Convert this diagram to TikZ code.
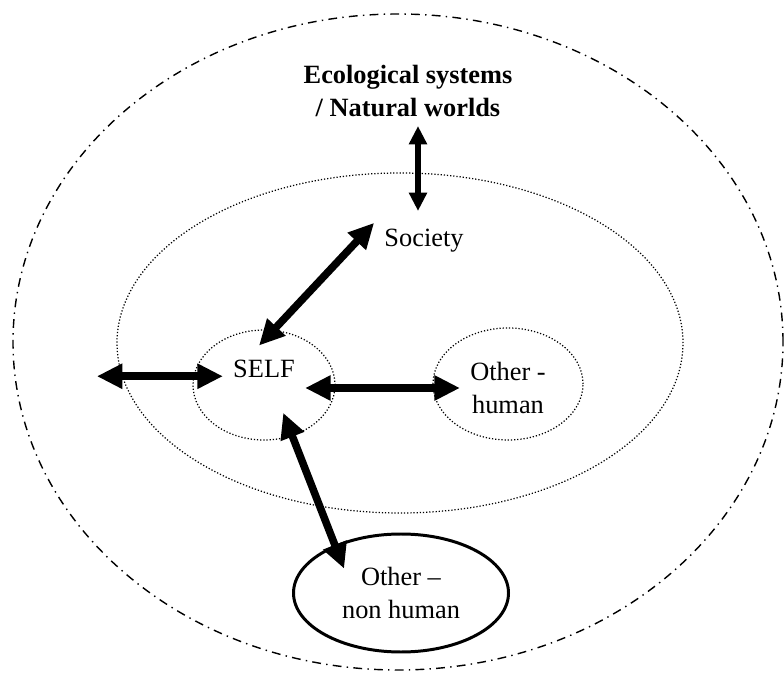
\documentclass[tikz,border=0pt]{standalone}
\usepackage{fontspec}
\setmainfont{Liberation Serif}
\usetikzlibrary{arrows.meta,positioning,shapes.geometric,calc}

\begin{document}
\begin{tikzpicture}[
    ring/.style={draw, ellipse, inner sep=0pt},
    dotring/.style={ring, line width=0.7pt, dash pattern=on 0.7pt off 1.1pt},
    txt/.style={inner sep=0.2cm, align=center, font=\fontsize{15}{19}\selectfont},
    arrow/.style={{Triangle[length=14.5pt,width=13.5pt]}-{Triangle[length=14.5pt,width=13.5pt]}, line width=4.3pt},
    thinarrow/.style={{Triangle[length=10.4pt,width=9.8pt]}-{Triangle[length=10.4pt,width=9.8pt]}, line width=3.4pt}
]
\useasboundingbox (0,0) rectangle (15.68,13.54);

% Rings
\node[ring, line width=0.8pt, dash pattern=on 5pt off 3pt on 0.8pt off 3pt, minimum width=15.4cm, minimum height=13.12cm] (world) at (7.96,6.70) {};
\node[dotring, minimum width=11.32cm, minimum height=6.8cm] (societyring) at (8.00,6.68) {};
\node[dotring, minimum width=2.84cm, minimum height=2.2cm] (selfring) at (5.28,5.84) {};
\node[dotring, minimum width=3.0cm, minimum height=2.24cm] (otherhring) at (10.16,5.86) {};
\node[ring, line width=1.7pt, minimum width=4.3cm, minimum height=2.36cm] (nonhumanring) at (8.02,1.68) {};

% Labels
\node[txt, font=\fontsize{15}{19}\selectfont\bfseries] (eco) at (8.16,11.72) {Ecological systems\\/ Natural worlds};
\node[txt] (society) at (8.48,8.72) {Society};
\node[txt] (self) at (5.28,6.16) {SELF};
\node[txt] (otherh) at (10.16,5.78) {Other -\\human};
\node[txt] (nonhuman) at (8.02,1.68) {Other --\\non human};

% Arrows
\coordinate (leftend) at ([xshift=-2.52cm]self.190);
\draw[thinarrow, shorten <=0.7cm, shorten >=0.6cm] ($(society.center |- eco.center)+(-0.12,0)$) -- ($(society.center)+(-0.12,0)$);
\draw[arrow, shorten >=-0.43cm] (society.160) -- (selfring.80);
\draw[arrow] (leftend) -- (self.190);
\draw[arrow] (self.east |- otherh.west) -- (otherh.west);
\draw[arrow, shorten <=-0.5cm, shorten >=-0.51cm] (selfring.-61) -- (nonhumanring.144);
\end{tikzpicture}
\end{document}
